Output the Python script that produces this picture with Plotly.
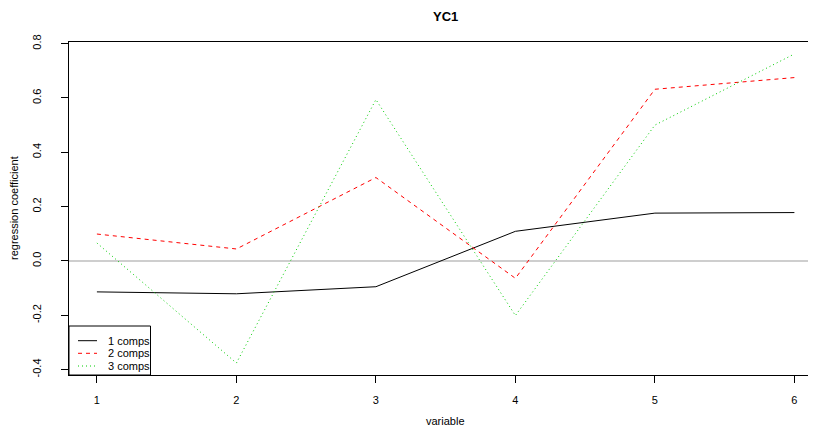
import plotly.graph_objects as go

variables = [1, 2, 3, 4, 5, 6]
comp1 = [-0.114, -0.121, -0.095, 0.109, 0.176, 0.178]
comp2 = [0.099, 0.044, 0.307, -0.064, 0.632, 0.675]
comp3 = [0.066, -0.376, 0.594, -0.201, 0.500, 0.762]
series_names = ["1 comps", "2 comps", "3 comps"]
y_ticks = [-0.4, -0.2, 0.0, 0.2, 0.4, 0.6, 0.8]

OFF = 8  # page body margin offset
W, H = 816 - OFF, 432 - OFF
ML, MR, MT, MB = 69 - OFF, 0, 42 - OFF, 57
PW, PH = W - ML - MR, H - MT - MB

def px(x):
    return (x - OFF - ML) / PW

def py(y):
    return (H - MB - (y - OFF)) / PH

colors = ["#000000", "#FF0000", "#00CD00"]
dashes = ["solid", "4px,4px", "1px,3px"]
FONT = "Liberation Sans, Arial, Helvetica, sans-serif"

fig = go.Figure()
for vals, name, c, d in zip([comp1, comp2, comp3], series_names, colors, dashes):
    fig.add_trace(go.Scatter(x=variables, y=vals, mode="lines", name=name,
                             line=dict(color=c, width=1, dash=d), showlegend=False))

shapes = [
    dict(type="line", xref="paper", yref="y", x0=0, x1=1, y0=0, y1=0,
         line=dict(color="#BEBEBE", width=1.5), layer="below"),
    dict(type="rect", xref="paper", yref="paper", x0=px(69), x1=px(150.5), y0=py(375), y1=py(326),
         line=dict(color="black", width=1), fillcolor="white"),
]
annotations = []
rows = [340.7, 353.3, 366]
for name, c, d, ry in zip(series_names, colors, dashes, rows):
    shapes.append(dict(type="line", xref="paper", yref="paper", x0=px(78), x1=px(97),
                       y0=py(ry), y1=py(ry), line=dict(color=c, width=1, dash=d)))
    annotations.append(dict(text=name, xref="paper", yref="paper", x=px(106), y=py(ry),
                            xanchor="left", yanchor="middle", showarrow=False,
                            font=dict(size=11, color="black", family=FONT)))

annotations += [
    dict(text="<b>YC1</b>", xref="paper", yref="paper", x=px(446), y=py(8),
         xanchor="center", yanchor="top", borderpad=0, showarrow=False,
         font=dict(size=13, family=FONT, color="black")),
    dict(text="variable", xref="paper", yref="paper", x=px(446), y=py(421),
         xanchor="center", yanchor="middle", showarrow=False, font=dict(size=11, family=FONT, color="black")),
    dict(text="regression coefficient", xref="paper", yref="paper", x=px(14), y=py(208),
         xanchor="center", yanchor="middle", textangle=-90, showarrow=False,
         font=dict(size=11, family=FONT, color="black")),
]

fig.update_layout(
    width=W, height=H, margin=dict(l=ML, r=MR, t=MT, b=MB, pad=0),
    plot_bgcolor="white", paper_bgcolor="white",
    font=dict(family=FONT, size=11, color="black"),
    shapes=shapes, annotations=annotations, showlegend=False,
    xaxis=dict(range=[0.8, 0.8 + PW / 139.5], tickvals=variables, ticktext=[str(v) for v in variables],
               showgrid=False, zeroline=False, showline=True, linecolor="black", linewidth=1, mirror=True,
               ticks="outside", ticklen=7, tickcolor="black", ticklabelstandoff=8),
    yaxis=dict(range=[-0.420, 0.806], tickvals=y_ticks, ticktext=[f"{v:.1f}" for v in y_ticks],
               tickangle=-90, showgrid=False, zeroline=False, showline=True, linecolor="black", linewidth=1,
               ticks="outside", ticklen=7, tickcolor="black", ticklabelstandoff=16),
)

fig.write_html("out.html")
